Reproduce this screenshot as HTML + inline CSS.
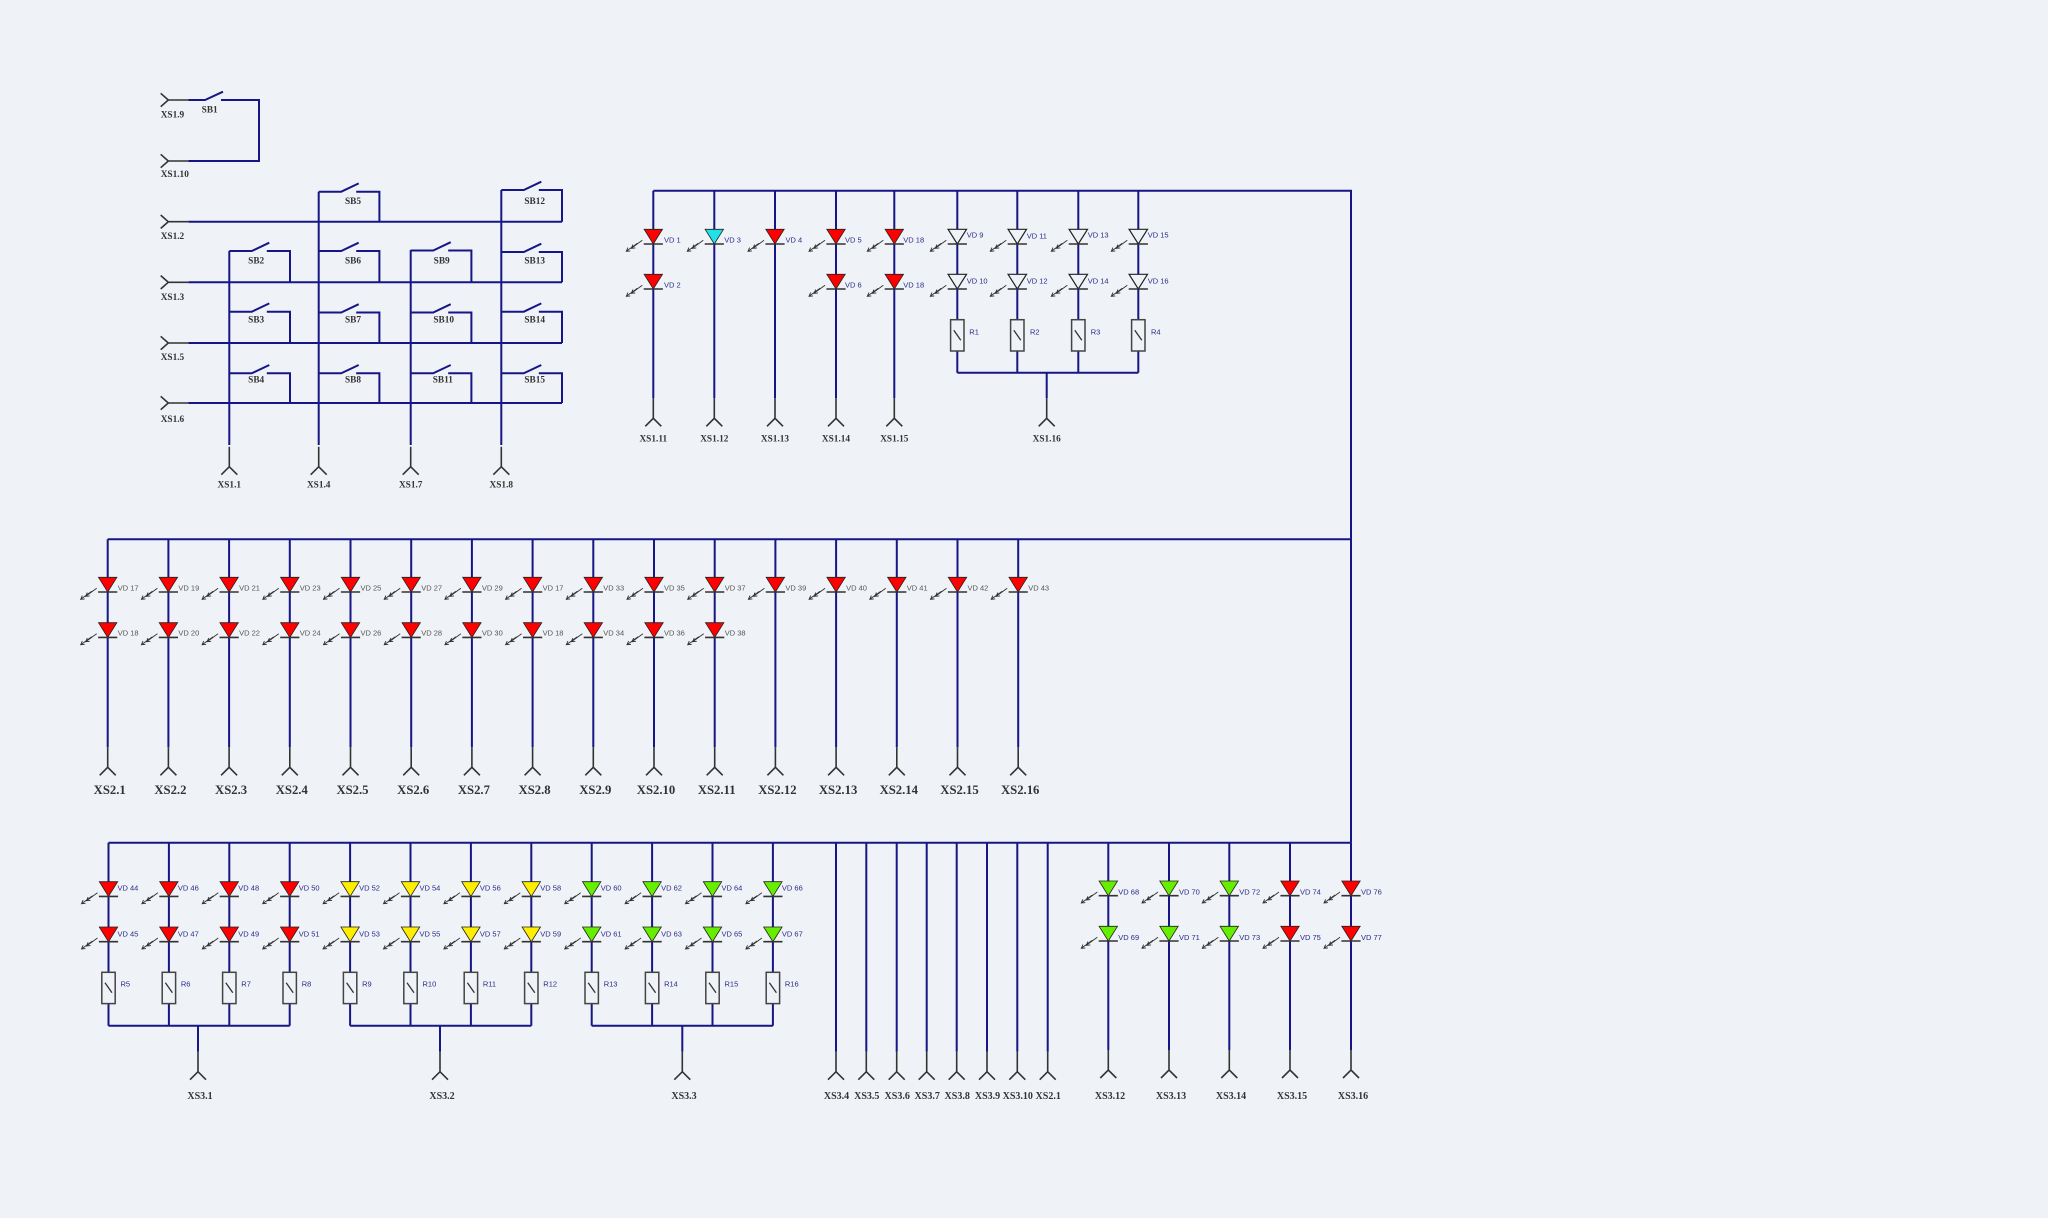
<!DOCTYPE html>
<html>
<head>
<meta charset="utf-8">
<style>
html,body{margin:0;padding:0;background:#eff2f6;}
svg{display:block;}
.vd{font-family:"Liberation Sans",sans-serif;font-size:7.5px;fill:#2a2a8a;}
.vg{fill:#555;}
.xs{font-family:"Liberation Serif",serif;font-weight:bold;font-size:9.3px;fill:#333;text-anchor:middle;}
.xa{font-family:"Liberation Serif",serif;font-weight:bold;font-size:9.3px;fill:#333;}
.xl{font-family:"Liberation Serif",serif;font-weight:bold;font-size:12.7px;fill:#333;text-anchor:middle;}
.xb{font-family:"Liberation Serif",serif;font-weight:bold;font-size:10px;fill:#333;text-anchor:middle;}
.w{stroke:#161686;stroke-width:2;fill:none;}
</style>
</head>
<body>
<svg width="2048" height="1218" viewBox="0 0 2048 1218" xmlns="http://www.w3.org/2000/svg">
<rect x="0" y="0" width="2048" height="1218" fill="#eff2f6"/>
<defs>
<path id="arw" d="M-11,11 L-22,19 M-18,18.6 L-22,19 L-20.4,15.3 M-16,14 L-27,22 M-23,21.6 L-27,22 L-25.4,18.3" stroke="#333" stroke-width="0.9" fill="none"/>
<line id="bar" x1="-9.6" y1="14.7" x2="9.6" y2="14.7" stroke="#333" stroke-width="1.6"/>
<g id="lr"><use href="#arw"/><polygon points="-9.2,0 9.2,0 0,14.7" fill="#f00" stroke="#222" stroke-width="0.8"/><use href="#bar"/></g>
<g id="ly"><use href="#arw"/><polygon points="-9.2,0 9.2,0 0,14.7" fill="#ffee00" stroke="#222" stroke-width="0.8"/><use href="#bar"/></g>
<g id="lg"><use href="#arw"/><polygon points="-9.2,0 9.2,0 0,14.7" fill="#66ee00" stroke="#222" stroke-width="0.8"/><use href="#bar"/></g>
<g id="lc"><use href="#arw"/><polygon points="-9.2,0 9.2,0 0,14.7" fill="#20e0e8" stroke="#222" stroke-width="0.8"/><use href="#bar"/></g>
<g id="lw"><use href="#arw"/><polygon points="-9.2,0 9.2,0 0,14.7" fill="#eff2f6" stroke="#222" stroke-width="1.2"/><use href="#bar"/></g>
<g id="res"><rect x="-6.7" y="0" width="13.4" height="31.3" fill="#eff2f6" stroke="#444" stroke-width="1.5"/><line x1="-3.5" y1="10.5" x2="3.5" y2="20.5" stroke="#333" stroke-width="1.3"/></g>
<path id="cb" d="M0,-20 V0 M-8,8 L0,0 L8,8" stroke="#333" stroke-width="1.6" fill="none"/>
<path id="cl" d="M-7.6,-6.7 L0,0 L-7.6,6.7 M0,0 H20" stroke="#333" stroke-width="1.6" fill="none"/>
</defs>

<!-- ===== SWITCH MATRIX ===== -->
<path class="w" d="M188.3,100 H205 L223,91.7 M221,100 H259 V161 H188.3"/>
<path class="w" d="M188.3,221.7 H562 M188.3,282.3 H562 M188.3,343 H562 M188.3,403 H562"/>
<path class="w" d="M229.3,251 V445 M318.7,191.7 V445 M410.7,250 V445 M501.3,190 V445"/>
<path class="w" d="M318.7,191.7 H341.2 L358.7,183.4 M356.2,191.7 H379.4 V221.7"/>
<path class="w" d="M501.3,190 H523.8 L541.3,181.7 M538.8,190 H562 V221.7"/>
<path class="w" d="M229.3,251 H251.8 L269.3,242.7 M266.8,251 H290 V282.3"/>
<path class="w" d="M318.7,251 H341.2 L358.7,242.7 M356.2,251 H379.4 V282.3"/>
<path class="w" d="M410.7,250.5 H433.2 L450.7,242.2 M448.2,250.5 H471.4 V282.3"/>
<path class="w" d="M501.3,252 H523.8 L541.3,243.7 M538.8,252 H562 V282.3"/>
<path class="w" d="M229.3,311.7 H251.8 L269.3,303.4 M266.8,311.7 H290 V343"/>
<path class="w" d="M318.7,312.5 H341.2 L358.7,304.2 M356.2,312.5 H379.4 V343"/>
<path class="w" d="M410.7,312.5 H433.2 L450.7,304.2 M448.2,312.5 H471.4 V343"/>
<path class="w" d="M501.3,311.7 H523.8 L541.3,303.4 M538.8,311.7 H562 V343"/>
<path class="w" d="M229.3,373.3 H251.8 L269.3,365 M266.8,373.3 H290 V403"/>
<path class="w" d="M318.7,373.3 H341.2 L358.7,365 M356.2,373.3 H379.4 V403"/>
<path class="w" d="M410.7,373.3 H433.2 L450.7,365 M448.2,373.3 H471.4 V403"/>
<path class="w" d="M501.3,373.3 H523.8 L541.3,365 M538.8,373.3 H562 V403"/>

<use href="#cl" x="168.3" y="100"/>
<use href="#cl" x="168.3" y="161"/>
<use href="#cl" x="168.3" y="221.7"/>
<use href="#cl" x="168.3" y="282.3"/>
<use href="#cl" x="168.3" y="343"/>
<use href="#cl" x="168.3" y="403"/>
<use href="#cb" x="229.3" y="466.7"/>
<use href="#cb" x="318.7" y="466.7"/>
<use href="#cb" x="410.7" y="466.7"/>
<use href="#cb" x="501.3" y="466.7"/>

<text class="xa" x="160.7" y="117.5">XS1.9</text>
<text class="xa" x="160.7" y="177">XS1.10</text>
<text class="xa" x="160.7" y="239">XS1.2</text>
<text class="xa" x="160.7" y="300">XS1.3</text>
<text class="xa" x="160.7" y="360">XS1.5</text>
<text class="xa" x="160.7" y="422">XS1.6</text>
<text class="xs" x="229.3" y="487.5">XS1.1</text>
<text class="xs" x="318.7" y="487.5">XS1.4</text>
<text class="xs" x="410.7" y="487.5">XS1.7</text>
<text class="xs" x="501.3" y="487.5">XS1.8</text>

<text class="xs" x="209.7" y="112.3">SB1</text>
<text class="xs" x="353" y="204">SB5</text>
<text class="xs" x="534.7" y="204">SB12</text>
<text class="xs" x="256.2" y="263.3">SB2</text>
<text class="xs" x="353" y="263.3">SB6</text>
<text class="xs" x="441.7" y="263.3">SB9</text>
<text class="xs" x="534.7" y="263.3">SB13</text>
<text class="xs" x="256.2" y="322.6">SB3</text>
<text class="xs" x="353" y="322.6">SB7</text>
<text class="xs" x="443.7" y="322.6">SB10</text>
<text class="xs" x="534.7" y="322.6">SB14</text>
<text class="xs" x="256.2" y="382.6">SB4</text>
<text class="xs" x="353" y="382.6">SB8</text>
<text class="xs" x="442.8" y="382.6">SB11</text>
<text class="xs" x="534.7" y="382.6">SB15</text>

<!-- ===== TOP RIGHT LED BANK ===== -->
<path class="w" d="M653.3,190.7 H1351 V842.7"/>
<path class="w" d="M653.3,190.7 V398.3 M714.3,190.7 V398.3 M775,190.7 V398.3 M836,190.7 V398.3 M894.3,190.7 V398.3"/>
<path class="w" d="M957.3,190.7 V372.7 M1017.3,190.7 V372.7 M1078.3,190.7 V372.7 M1138.3,190.7 V372.7 M957.3,372.7 H1138.3 M1046.7,372.7 V398.3"/>

<use href="#lr" x="653.3" y="229.3"/>
<use href="#lr" x="653.3" y="274.3"/>
<use href="#lc" x="714.3" y="229.3"/>
<use href="#lr" x="775" y="229.3"/>
<use href="#lr" x="836" y="229.3"/>
<use href="#lr" x="836" y="274.3"/>
<use href="#lr" x="894.3" y="229.3"/>
<use href="#lr" x="894.3" y="274.3"/>
<use href="#lw" x="957.3" y="229.3"/>
<use href="#lw" x="957.3" y="274.3"/>
<use href="#lw" x="1017.3" y="229.3"/>
<use href="#lw" x="1017.3" y="274.3"/>
<use href="#lw" x="1078.3" y="229.3"/>
<use href="#lw" x="1078.3" y="274.3"/>
<use href="#lw" x="1138.3" y="229.3"/>
<use href="#lw" x="1138.3" y="274.3"/>
<use href="#res" x="957.3" y="319.7"/>
<use href="#res" x="1017.3" y="319.7"/>
<use href="#res" x="1078.3" y="319.7"/>
<use href="#res" x="1138.3" y="319.7"/>

<use href="#cb" x="653.3" y="418.3"/>
<use href="#cb" x="714.3" y="418.3"/>
<use href="#cb" x="775" y="418.3"/>
<use href="#cb" x="836" y="418.3"/>
<use href="#cb" x="894.3" y="418.3"/>
<use href="#cb" x="1046.7" y="418.3"/>

<text class="vd" x="664" y="242.7">VD 1</text>
<text class="vd" x="664" y="287.7">VD 2</text>
<text class="vd" x="724.3" y="242.7">VD 3</text>
<text class="vd" x="785.5" y="242.7">VD 4</text>
<text class="vd" x="845" y="242.7">VD 5</text>
<text class="vd" x="845" y="287.7">VD 6</text>
<text class="vd" x="903.3" y="242.7">VD 18</text>
<text class="vd" x="903.3" y="287.7">VD 18</text>
<text class="vd" x="966.7" y="237.7">VD 9</text>
<text class="vd" x="966.7" y="283.7">VD 10</text>
<text class="vd" x="1026.7" y="238.5">VD 11</text>
<text class="vd" x="1026.7" y="283.7">VD 12</text>
<text class="vd" x="1087.7" y="237.7">VD 13</text>
<text class="vd" x="1087.7" y="283.7">VD 14</text>
<text class="vd" x="1147.7" y="237.7">VD 15</text>
<text class="vd" x="1147.7" y="283.7">VD 16</text>
<text class="vd" x="969.3" y="334.7">R1</text>
<text class="vd" x="1030" y="334.7">R2</text>
<text class="vd" x="1090.7" y="334.7">R3</text>
<text class="vd" x="1151" y="334.7">R4</text>

<text class="xs" x="653.3" y="441.5">XS1.11</text>
<text class="xs" x="714.3" y="441.5">XS1.12</text>
<text class="xs" x="775" y="441.5">XS1.13</text>
<text class="xs" x="836" y="441.5">XS1.14</text>
<text class="xs" x="894.3" y="441.5">XS1.15</text>
<text class="xs" x="1046.7" y="441.5">XS1.16</text>

<!-- ===== MIDDLE ROW ===== -->
<path class="w" d="M107.7,539.3 H1351"/>
<path class="w" d="M107.7,539.3 V747.3 M168.4,539.3 V747.3 M229.1,539.3 V747.3 M289.8,539.3 V747.3 M350.5,539.3 V747.3 M411.2,539.3 V747.3 M471.9,539.3 V747.3 M532.6,539.3 V747.3 M593.3,539.3 V747.3 M654,539.3 V747.3 M714.7,539.3 V747.3 M775.4,539.3 V747.3 M836.1,539.3 V747.3 M896.8,539.3 V747.3 M957.5,539.3 V747.3 M1018.2,539.3 V747.3"/>

<use href="#lr" x="107.7" y="577.3"/><use href="#lr" x="107.7" y="622.7"/>
<use href="#lr" x="168.4" y="577.3"/><use href="#lr" x="168.4" y="622.7"/>
<use href="#lr" x="229.1" y="577.3"/><use href="#lr" x="229.1" y="622.7"/>
<use href="#lr" x="289.8" y="577.3"/><use href="#lr" x="289.8" y="622.7"/>
<use href="#lr" x="350.5" y="577.3"/><use href="#lr" x="350.5" y="622.7"/>
<use href="#lr" x="411.2" y="577.3"/><use href="#lr" x="411.2" y="622.7"/>
<use href="#lr" x="471.9" y="577.3"/><use href="#lr" x="471.9" y="622.7"/>
<use href="#lr" x="532.6" y="577.3"/><use href="#lr" x="532.6" y="622.7"/>
<use href="#lr" x="593.3" y="577.3"/><use href="#lr" x="593.3" y="622.7"/>
<use href="#lr" x="654" y="577.3"/><use href="#lr" x="654" y="622.7"/>
<use href="#lr" x="714.7" y="577.3"/><use href="#lr" x="714.7" y="622.7"/>
<use href="#lr" x="775.4" y="577.3"/>
<use href="#lr" x="836.1" y="577.3"/>
<use href="#lr" x="896.8" y="577.3"/>
<use href="#lr" x="957.5" y="577.3"/>
<use href="#lr" x="1018.2" y="577.3"/>

<use href="#cb" x="107.7" y="767.3"/>
<use href="#cb" x="168.4" y="767.3"/>
<use href="#cb" x="229.1" y="767.3"/>
<use href="#cb" x="289.8" y="767.3"/>
<use href="#cb" x="350.5" y="767.3"/>
<use href="#cb" x="411.2" y="767.3"/>
<use href="#cb" x="471.9" y="767.3"/>
<use href="#cb" x="532.6" y="767.3"/>
<use href="#cb" x="593.3" y="767.3"/>
<use href="#cb" x="654" y="767.3"/>
<use href="#cb" x="714.7" y="767.3"/>
<use href="#cb" x="775.4" y="767.3"/>
<use href="#cb" x="836.1" y="767.3"/>
<use href="#cb" x="896.8" y="767.3"/>
<use href="#cb" x="957.5" y="767.3"/>
<use href="#cb" x="1018.2" y="767.3"/>

<text class="vd vg" x="117.7" y="590.7">VD 17</text>
<text class="vd vg" x="178.4" y="590.7">VD 19</text>
<text class="vd vg" x="239.1" y="590.7">VD 21</text>
<text class="vd vg" x="299.8" y="590.7">VD 23</text>
<text class="vd vg" x="360.5" y="590.7">VD 25</text>
<text class="vd vg" x="421.2" y="590.7">VD 27</text>
<text class="vd vg" x="481.9" y="590.7">VD 29</text>
<text class="vd vg" x="542.6" y="590.7">VD 17</text>
<text class="vd vg" x="603.3" y="590.7">VD 33</text>
<text class="vd vg" x="664" y="590.7">VD 35</text>
<text class="vd vg" x="724.7" y="590.7">VD 37</text>
<text class="vd vg" x="785.4" y="590.7">VD 39</text>
<text class="vd vg" x="846.1" y="590.7">VD 40</text>
<text class="vd vg" x="906.8" y="590.7">VD 41</text>
<text class="vd vg" x="967.5" y="590.7">VD 42</text>
<text class="vd vg" x="1028.2" y="590.7">VD 43</text>
<text class="vd vg" x="117.7" y="635.7">VD 18</text>
<text class="vd vg" x="178.4" y="635.7">VD 20</text>
<text class="vd vg" x="239.1" y="635.7">VD 22</text>
<text class="vd vg" x="299.8" y="635.7">VD 24</text>
<text class="vd vg" x="360.5" y="635.7">VD 26</text>
<text class="vd vg" x="421.2" y="635.7">VD 28</text>
<text class="vd vg" x="481.9" y="635.7">VD 30</text>
<text class="vd vg" x="542.6" y="635.7">VD 18</text>
<text class="vd vg" x="603.3" y="635.7">VD 34</text>
<text class="vd vg" x="664" y="635.7">VD 36</text>
<text class="vd vg" x="724.7" y="635.7">VD 38</text>

<text class="xl" x="109.7" y="793.8">XS2.1</text>
<text class="xl" x="170.4" y="793.8">XS2.2</text>
<text class="xl" x="231.1" y="793.8">XS2.3</text>
<text class="xl" x="291.8" y="793.8">XS2.4</text>
<text class="xl" x="352.5" y="793.8">XS2.5</text>
<text class="xl" x="413.2" y="793.8">XS2.6</text>
<text class="xl" x="473.9" y="793.8">XS2.7</text>
<text class="xl" x="534.6" y="793.8">XS2.8</text>
<text class="xl" x="595.3" y="793.8">XS2.9</text>
<text class="xl" x="656" y="793.8">XS2.10</text>
<text class="xl" x="716.7" y="793.8">XS2.11</text>
<text class="xl" x="777.4" y="793.8">XS2.12</text>
<text class="xl" x="838.1" y="793.8">XS2.13</text>
<text class="xl" x="898.8" y="793.8">XS2.14</text>
<text class="xl" x="959.5" y="793.8">XS2.15</text>
<text class="xl" x="1020.2" y="793.8">XS2.16</text>

<!-- ===== BOTTOM ROW ===== -->
<path class="w" d="M108.5,842.7 H1351"/>
<path class="w" d="M108.5,842.7 V1025.7 M168.9,842.7 V1025.7 M229.3,842.7 V1025.7 M289.7,842.7 V1025.7 M350.1,842.7 V1025.7 M410.5,842.7 V1025.7 M470.9,842.7 V1025.7 M531.3,842.7 V1025.7 M591.7,842.7 V1025.7 M652.1,842.7 V1025.7 M712.5,842.7 V1025.7 M772.9,842.7 V1025.7"/>
<path class="w" d="M108.5,1025.7 H289.7 M350.1,1025.7 H531.3 M591.7,1025.7 H772.9 M198,1025.7 V1051.7 M440,1025.7 V1051.7 M682.3,1025.7 V1051.7"/>
<path class="w" d="M836,842.7 V1051.7 M866.3,842.7 V1051.7 M896.7,842.7 V1051.7 M926.7,842.7 V1051.7 M956.7,842.7 V1051.7 M987,842.7 V1051.7 M1017.3,842.7 V1051.7 M1047.7,842.7 V1051.7"/>
<path class="w" d="M1108.3,842.7 V1050 M1169,842.7 V1050 M1229.3,842.7 V1050 M1290,842.7 V1050 M1351,842.7 V1050"/>

<use href="#lr" x="108.5" y="881.7"/><use href="#lr" x="108.5" y="927"/>
<use href="#lr" x="168.9" y="881.7"/><use href="#lr" x="168.9" y="927"/>
<use href="#lr" x="229.3" y="881.7"/><use href="#lr" x="229.3" y="927"/>
<use href="#lr" x="289.7" y="881.7"/><use href="#lr" x="289.7" y="927"/>
<use href="#ly" x="350.1" y="881.7"/><use href="#ly" x="350.1" y="927"/>
<use href="#ly" x="410.5" y="881.7"/><use href="#ly" x="410.5" y="927"/>
<use href="#ly" x="470.9" y="881.7"/><use href="#ly" x="470.9" y="927"/>
<use href="#ly" x="531.3" y="881.7"/><use href="#ly" x="531.3" y="927"/>
<use href="#lg" x="591.7" y="881.7"/><use href="#lg" x="591.7" y="927"/>
<use href="#lg" x="652.1" y="881.7"/><use href="#lg" x="652.1" y="927"/>
<use href="#lg" x="712.5" y="881.7"/><use href="#lg" x="712.5" y="927"/>
<use href="#lg" x="772.9" y="881.7"/><use href="#lg" x="772.9" y="927"/>

<use href="#res" x="108.5" y="972.3"/>
<use href="#res" x="168.9" y="972.3"/>
<use href="#res" x="229.3" y="972.3"/>
<use href="#res" x="289.7" y="972.3"/>
<use href="#res" x="350.1" y="972.3"/>
<use href="#res" x="410.5" y="972.3"/>
<use href="#res" x="470.9" y="972.3"/>
<use href="#res" x="531.3" y="972.3"/>
<use href="#res" x="591.7" y="972.3"/>
<use href="#res" x="652.1" y="972.3"/>
<use href="#res" x="712.5" y="972.3"/>
<use href="#res" x="772.9" y="972.3"/>

<use href="#lg" x="1108.3" y="881"/><use href="#lg" x="1108.3" y="926.3"/>
<use href="#lg" x="1169" y="881"/><use href="#lg" x="1169" y="926.3"/>
<use href="#lg" x="1229.3" y="881"/><use href="#lg" x="1229.3" y="926.3"/>
<use href="#lr" x="1290" y="881"/><use href="#lr" x="1290" y="926.3"/>
<use href="#lr" x="1351" y="881"/><use href="#lr" x="1351" y="926.3"/>

<use href="#cb" x="198" y="1071.7"/>
<use href="#cb" x="440" y="1071.7"/>
<use href="#cb" x="682.3" y="1071.7"/>
<use href="#cb" x="836" y="1071.7"/>
<use href="#cb" x="866.3" y="1071.7"/>
<use href="#cb" x="896.7" y="1071.7"/>
<use href="#cb" x="926.7" y="1071.7"/>
<use href="#cb" x="956.7" y="1071.7"/>
<use href="#cb" x="987" y="1071.7"/>
<use href="#cb" x="1017.3" y="1071.7"/>
<use href="#cb" x="1047.7" y="1071.7"/>
<use href="#cb" x="1108.3" y="1070"/>
<use href="#cb" x="1169" y="1070"/>
<use href="#cb" x="1229.3" y="1070"/>
<use href="#cb" x="1290" y="1070"/>
<use href="#cb" x="1351" y="1070"/>

<text class="vd" x="117.5" y="890.7">VD 44</text>
<text class="vd" x="177.9" y="890.7">VD 46</text>
<text class="vd" x="238.3" y="890.7">VD 48</text>
<text class="vd" x="298.7" y="890.7">VD 50</text>
<text class="vd" x="359.1" y="890.7">VD 52</text>
<text class="vd" x="419.5" y="890.7">VD 54</text>
<text class="vd" x="479.9" y="890.7">VD 56</text>
<text class="vd" x="540.3" y="890.7">VD 58</text>
<text class="vd" x="600.7" y="890.7">VD 60</text>
<text class="vd" x="661.1" y="890.7">VD 62</text>
<text class="vd" x="721.5" y="890.7">VD 64</text>
<text class="vd" x="781.9" y="890.7">VD 66</text>
<text class="vd" x="117.5" y="936.7">VD 45</text>
<text class="vd" x="177.9" y="936.7">VD 47</text>
<text class="vd" x="238.3" y="936.7">VD 49</text>
<text class="vd" x="298.7" y="936.7">VD 51</text>
<text class="vd" x="359.1" y="936.7">VD 53</text>
<text class="vd" x="419.5" y="936.7">VD 55</text>
<text class="vd" x="479.9" y="936.7">VD 57</text>
<text class="vd" x="540.3" y="936.7">VD 59</text>
<text class="vd" x="600.7" y="936.7">VD 61</text>
<text class="vd" x="661.1" y="936.7">VD 63</text>
<text class="vd" x="721.5" y="936.7">VD 65</text>
<text class="vd" x="781.9" y="936.7">VD 67</text>

<text class="vd" x="120.5" y="986.7">R5</text>
<text class="vd" x="180.9" y="986.7">R6</text>
<text class="vd" x="241.3" y="986.7">R7</text>
<text class="vd" x="301.7" y="986.7">R8</text>
<text class="vd" x="362.1" y="986.7">R9</text>
<text class="vd" x="422.5" y="986.7">R10</text>
<text class="vd" x="482.9" y="986.7">R11</text>
<text class="vd" x="543.3" y="986.7">R12</text>
<text class="vd" x="603.7" y="986.7">R13</text>
<text class="vd" x="664.1" y="986.7">R14</text>
<text class="vd" x="724.5" y="986.7">R15</text>
<text class="vd" x="784.9" y="986.7">R16</text>

<text class="vd" x="1118.3" y="894.7">VD 68</text>
<text class="vd" x="1179" y="894.7">VD 70</text>
<text class="vd" x="1239.3" y="894.7">VD 72</text>
<text class="vd" x="1300" y="894.7">VD 74</text>
<text class="vd" x="1361" y="894.7">VD 76</text>
<text class="vd" x="1118.3" y="940">VD 69</text>
<text class="vd" x="1179" y="940">VD 71</text>
<text class="vd" x="1239.3" y="940">VD 73</text>
<text class="vd" x="1300" y="940">VD 75</text>
<text class="vd" x="1361" y="940">VD 77</text>

<text class="xb" x="200" y="1099">XS3.1</text>
<text class="xb" x="442" y="1099">XS3.2</text>
<text class="xb" x="684" y="1099">XS3.3</text>
<text class="xb" x="836.5" y="1099">XS3.4</text>
<text class="xb" x="866.8" y="1099">XS3.5</text>
<text class="xb" x="897.2" y="1099">XS3.6</text>
<text class="xb" x="927.2" y="1099">XS3.7</text>
<text class="xb" x="957.2" y="1099">XS3.8</text>
<text class="xb" x="987.5" y="1099">XS3.9</text>
<text class="xb" x="1017.8" y="1099">XS3.10</text>
<text class="xb" x="1048.2" y="1099">XS2.1</text>
<text class="xb" x="1110" y="1099">XS3.12</text>
<text class="xb" x="1171" y="1099">XS3.13</text>
<text class="xb" x="1231" y="1099">XS3.14</text>
<text class="xb" x="1292" y="1099">XS3.15</text>
<text class="xb" x="1353" y="1099">XS3.16</text>
</svg>
</body>
</html>
